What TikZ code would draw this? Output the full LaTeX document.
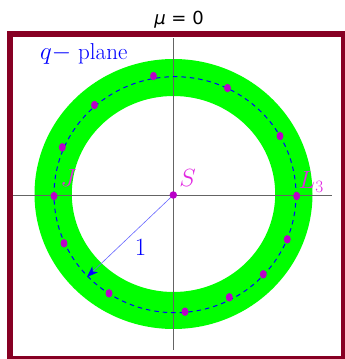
\documentclass[tikz,border=0pt]{standalone}
\usepackage{fontspec}
\newfontfamily\dejavu{DejaVu Sans}
\usetikzlibrary{arrows.meta,shapes.geometric}
\definecolor{framered}{RGB}{135,0,35}
\definecolor{ringgreen}{RGB}{0,255,0}
\definecolor{dotviolet}{RGB}{185,0,200}
\definecolor{labmag}{RGB}{225,40,225}
\definecolor{axisgray}{RGB}{100,100,100}
\begin{document}
\begin{tikzpicture}[x=1pt,y=-1pt,
  dotnode/.style={ellipse,fill=dotviolet,draw=none,minimum width=7pt,minimum height=8.5pt,inner sep=0pt},
  maglab/.style={font=\fontsize{23}{27}\selectfont,text=labmag,inner sep=0pt},
  bluelab/.style={font=\fontsize{23}{27}\selectfont,text=blue,inner sep=0pt},
  axisline/.style={draw=axisgray,line width=0.9pt},
  dashring/.style={draw=blue,line width=1pt,dash pattern=on 4.5pt off 4pt}]
\useasboundingbox (0,0) rectangle (345,359);
\clip (0,0) rectangle (345,359);
% frame
\draw[framered,line width=6pt] (10,34) rectangle (344,359);
% title
\node[anchor=base,inner sep=0pt,font=\fontsize{18}{21}\selectfont\dejavu] (title) at (179,24) {{\itshape μ} = 0};
% ring
\fill[ringgreen,even odd rule] (173.5,194) ellipse [x radius=139,y radius=135]
  (173.5,194) ellipse [x radius=101.7,y radius=98];
% axes
\coordinate (xl) at (13,195.5);
\coordinate (xr) at (332,195.5);
\coordinate (yt) at (173.3,38);
\coordinate (yb) at (173.3,350);
\draw[axisline] (xl) -- (xr);
\draw[axisline] (yt) -- (yb);
% dashed circle
\draw[dashring] (175,194.7) ellipse [x radius=121,y radius=118];
% label
\node[bluelab,anchor=base west] (qplane) at (40,59) {$q-$ plane};
% dots
\node[dotnode] (d1) at (153.5,76) {};
\node[dotnode] (d2) at (227.5,88) {};
\node[dotnode] (d3) at (94.5,105) {};
\node[dotnode] (d4) at (62.3,147.3) {};
\node[dotnode] (d5) at (280,136) {};
\node[dotnode] (J) at (54,196) {};
\node[dotnode] (L3) at (296.7,196) {};
\node[dotnode] (d8) at (64,243.3) {};
\node[dotnode] (d9) at (287.3,239.3) {};
\node[dotnode] (d10) at (263.3,274.3) {};
\node[dotnode] (d11) at (229.3,297.3) {};
\node[dotnode] (d12) at (185,311.7) {};
\node[dotnode] (d13) at (109,293.3) {};
% radius arrow
\coordinate (tip) at (87,277);
\draw[blue!60,line width=0.6pt,-{Stealth[length=11pt,width=8pt,inset=3pt,blue]}] (173.3,195) -- (tip);
\node[dotnode,minimum width=7.5pt,minimum height=7.5pt] (S) at (173.3,195) {};
% labels
\node[maglab,anchor=base] (Slab) at (187.5,186) {$S$};
\node[maglab,anchor=base] (Jlab) at (68.5,186) {$J$};
\node[maglab,anchor=base west] (Llab) at (298.5,188.3) {$L_3$};
\node[bluelab,anchor=base] (one) at (140.5,255) {$1$};
\end{tikzpicture}
\end{document}
